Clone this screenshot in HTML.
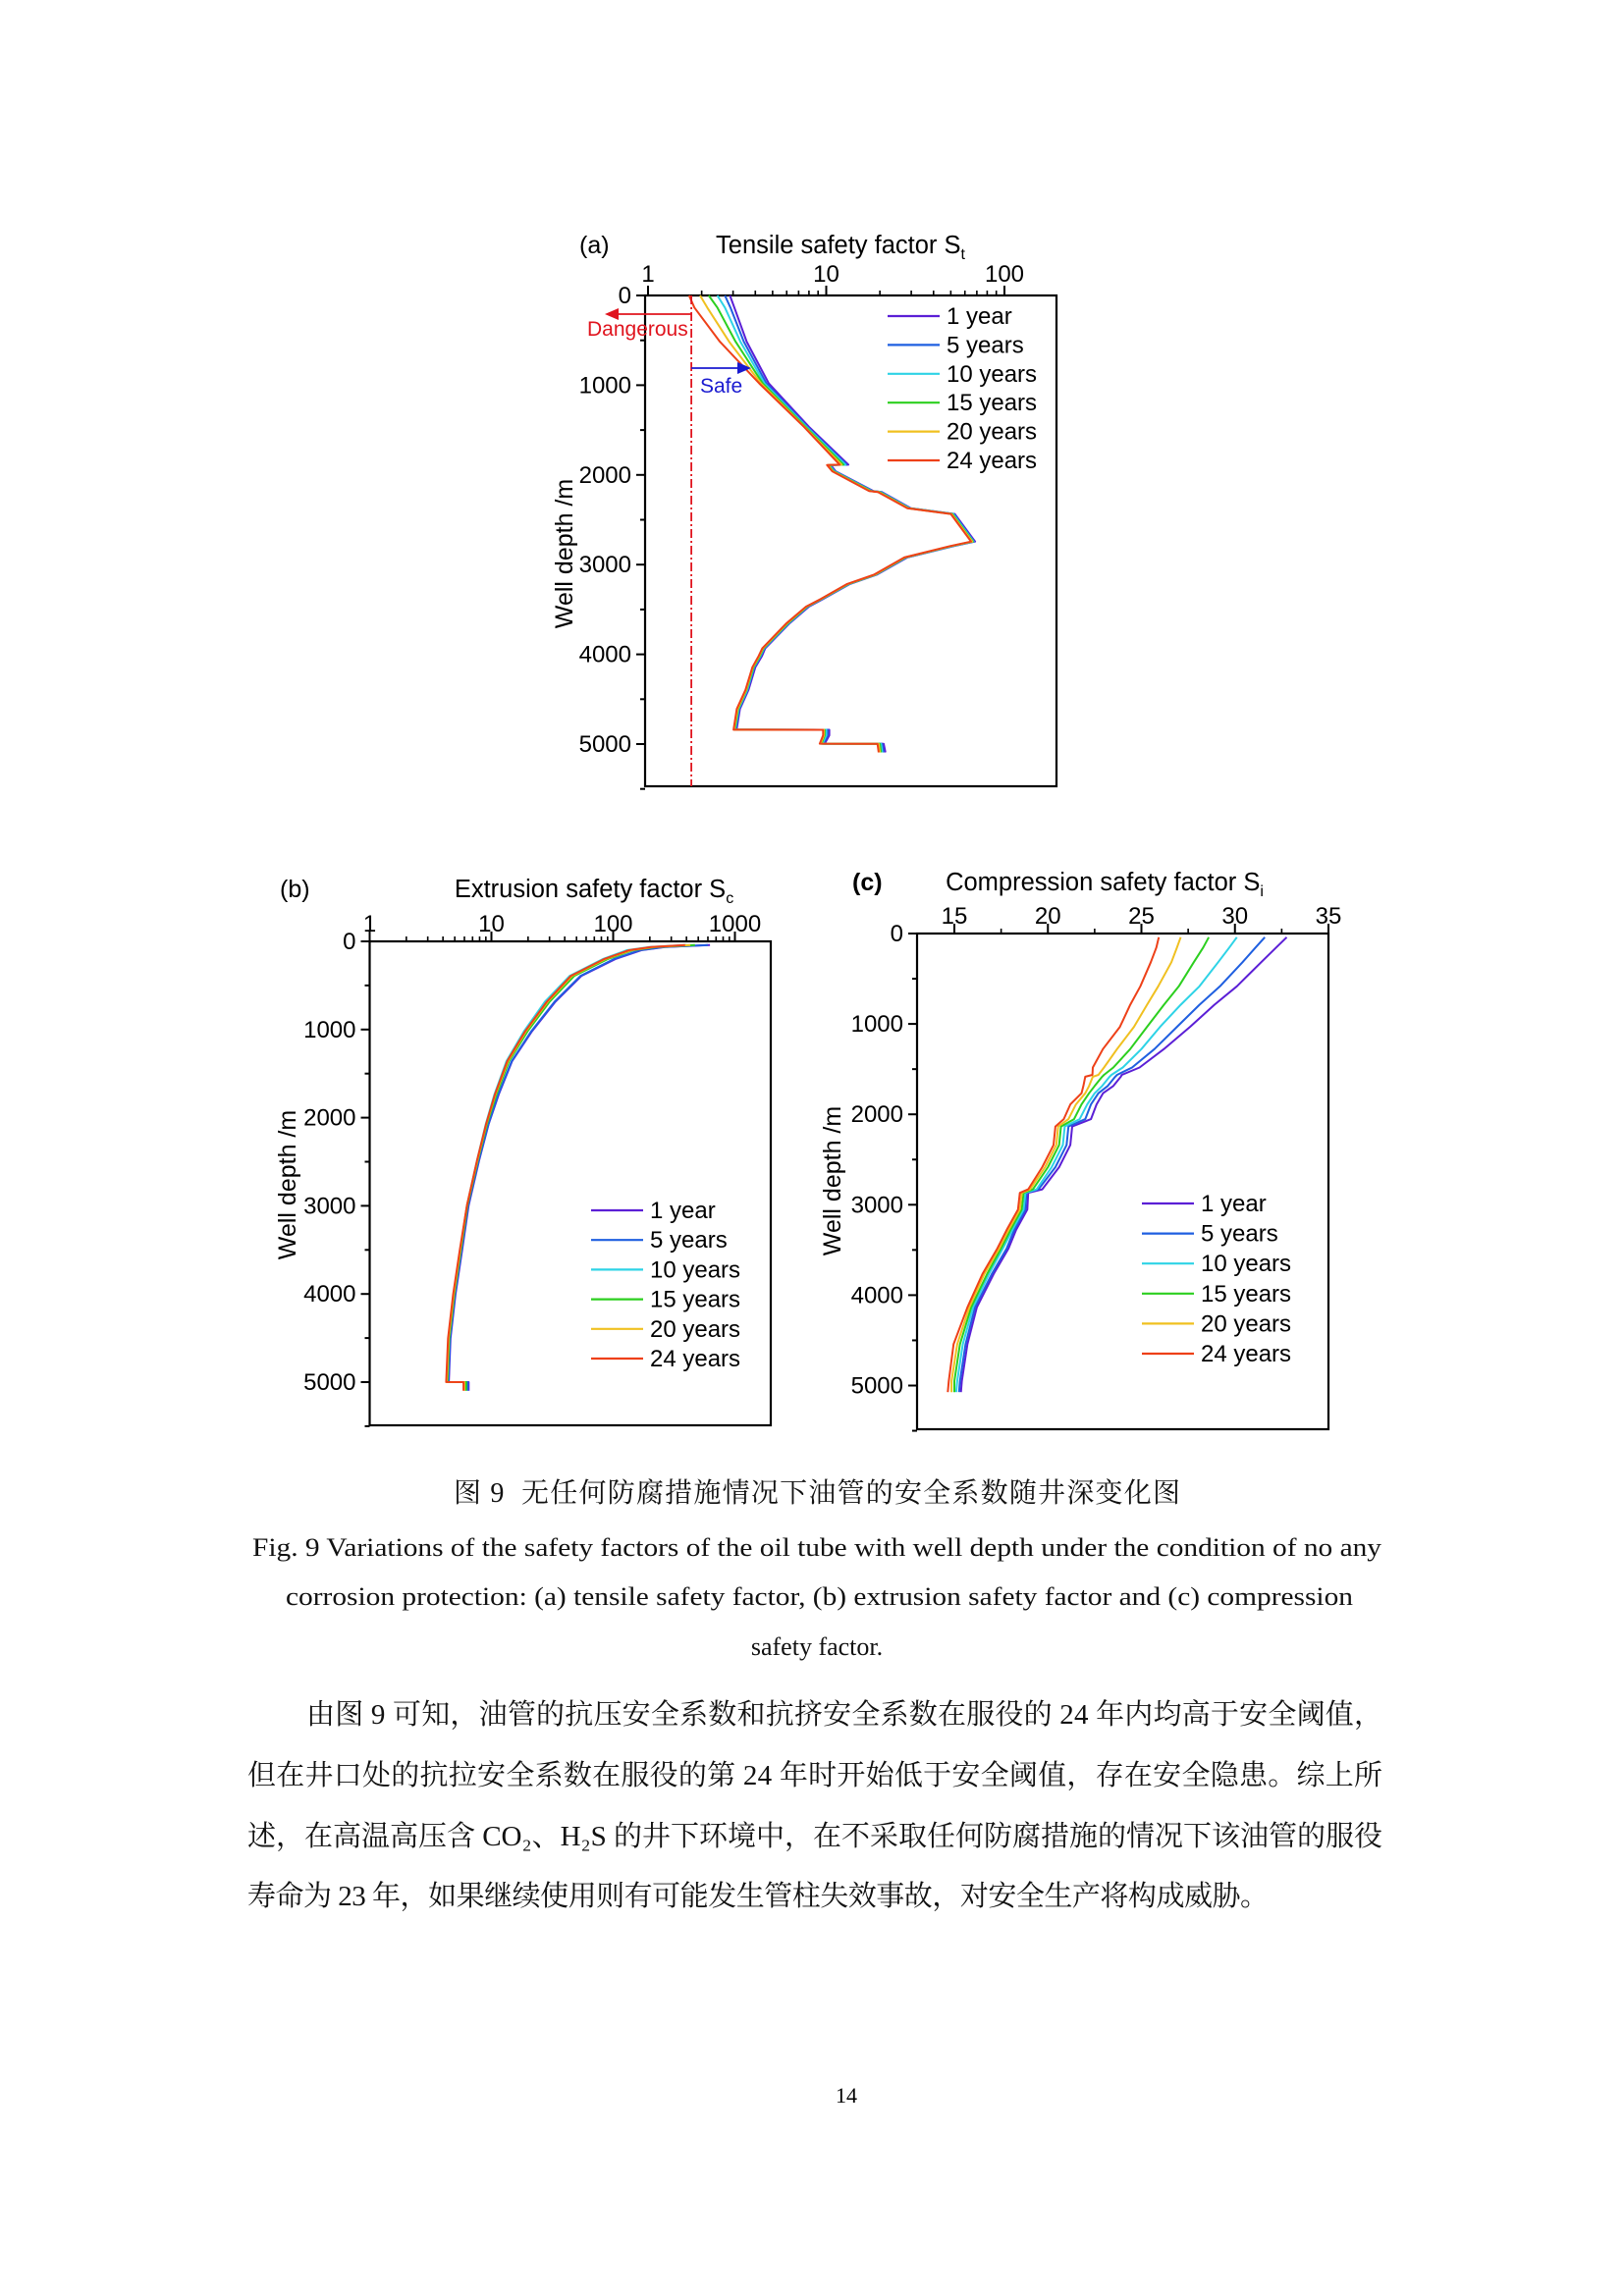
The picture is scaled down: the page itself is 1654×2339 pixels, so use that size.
<!DOCTYPE html>
<html><head><meta charset="utf-8"><style>
html,body{margin:0;padding:0;background:#fff;}
svg{display:block;}
</style></head><body>
<svg id="page" width="1654" height="2339" viewBox="0 0 1654 2339" xmlns="http://www.w3.org/2000/svg" font-family="'Liberation Sans', sans-serif">
<rect width="1654" height="2339" fill="#fff"/>
<g id="chartA"></g>
<g id="chartB"></g>
<g id="chartC"></g>
<g font-family="'Liberation Serif','Noto Serif CJK SC',serif" fill="#111">
<text x="462" y="1530" font-size="28" textLength="740" lengthAdjust="spacing">图 9&#160; 无任何防腐措施情况下油管的安全系数随井深变化图</text>
<text x="257" y="1585" font-size="26" textLength="1150" lengthAdjust="spacingAndGlyphs">Fig. 9 Variations of the safety factors of the oil tube with well depth under the condition of no any</text>
<text x="291" y="1635" font-size="26" textLength="1087" lengthAdjust="spacingAndGlyphs">corrosion protection: (a) tensile safety factor, (b) extrusion safety factor and (c) compression</text>
<text x="832" y="1686" font-size="26" text-anchor="middle">safety factor.</text>
</g>
<g font-family="'Liberation Serif','Noto Serif CJK SC',serif" fill="#111" font-size="29">
<text x="312" y="1756" textLength="1096" lengthAdjust="spacing">由图 9 可知，油管的抗压安全系数和抗挤安全系数在服役的 24 年内均高于安全阈值，</text>
<text x="252" y="1818" textLength="1156" lengthAdjust="spacing">但在井口处的抗拉安全系数在服役的第 24 年时开始低于安全阈值，存在安全隐患。综上所</text>
<text x="252" y="1880" textLength="1156" lengthAdjust="spacing">述，在高温高压含 CO₂、H₂S 的井下环境中，在不采取任何防腐措施的情况下该油管的服役</text>
<text x="252" y="1941" textLength="1040" lengthAdjust="spacing">寿命为 23 年，如果继续使用则有可能发生管柱失效事故，对安全生产将构成威胁。</text>
</g>
<text x="862" y="2142" font-size="22" text-anchor="middle" font-family="'Liberation Serif',serif">14</text>
</svg>
<script>
const seriesNames = ["1 year","5 years","10 years","15 years","20 years","24 years"];
const seriesColors = ["#5b1fd6","#1f5fe0","#2ed3e6","#2ccf1f","#f0c020","#ee4018"];

// Chart (a) tensile
const depthA = [0,135,515,980,1464,1886,1890,1960,2181,2190,2371,2435,2743,2793,2920,3110,3215,3384,3468,3658,3932,4017,4143,4397,4608,4840,4841,4903,4996,4997,5093];
const tensile1 = [2.88,3.05,3.58,4.76,8.0,13.3,10.6,11.3,18.4,20.5,29.8,52.6,68.4,52,28.5,19.3,13.6,9.6,8.0,6.2,4.55,4.36,4.0,3.66,3.28,3.14,10.4,10.4,9.8,21,21.5];
const tensile5 = [2.70,2.9,3.45,4.62,7.85,13.0,10.5,11.2,18.2,20.3,29.5,52,67.5,51.5,28.2,19.1,13.5,9.5,7.9,6.15,4.5,4.3,3.95,3.62,3.25,3.1,10.2,10.2,9.6,20.6,21.0];
const tensile10 = [2.45,2.7,3.3,4.5,7.75,12.8,10.4,11.1,18.0,20.1,29.3,51.5,67,51,28,19,13.4,9.45,7.85,6.1,4.47,4.27,3.92,3.6,3.22,3.08,10.0,10.0,9.5,20.3,20.6];
const tensile15 = [2.19,2.45,3.1,4.4,7.65,12.5,10.3,11.0,17.8,19.9,29.0,51,66.5,50.5,27.8,18.9,13.3,9.4,7.8,6.05,4.44,4.24,3.9,3.57,3.2,3.06,9.8,9.8,9.4,20.0,20.3];
const tensile20 = [1.96,2.15,2.85,4.3,7.55,12.2,10.2,10.9,17.6,19.7,28.8,50.5,66,50,27.6,18.8,13.2,9.35,7.75,6.0,4.41,4.21,3.87,3.55,3.18,3.04,9.7,9.7,9.3,19.7,20.0];
const tensile24 = [1.70,1.82,2.53,4.21,7.5,11.9,10.1,10.8,17.4,19.5,28.5,50,65,49.5,27.4,18.6,13.1,9.3,7.7,5.95,4.38,4.18,3.85,3.52,3.15,3.02,9.6,9.6,9.2,19.4,19.7];
const tensileThreshold = 1.75;
const tickLabelsA = ["1","10","100"];

// Chart (b) extrusion
const depthB = [42,63,100,202,391,685,1021,1357,1735,2071,2492,2996,3500,4004,4504,4999,5000,5097];
const extrusion1 = [624,267,170,104,55,33.5,21.5,14.8,11.5,9.5,7.9,6.5,5.75,5.07,4.61,4.47,6.5,6.5];
const extrusion5 = [600,260,165,101,54,33,21.2,14.7,11.4,9.45,7.85,6.45,5.7,5.03,4.58,4.44,6.4,6.4];
const extrusion10 = [400,200,130,82,44,27.5,18.5,13.3,10.6,9.0,7.6,6.3,5.55,4.9,4.45,4.3,6.1,6.1];
const extrusion15 = [470,225,145,90,48,30,19.8,14.0,11.0,9.2,7.7,6.35,5.6,4.95,4.5,4.35,6.2,6.2];
const extrusion20 = [430,215,140,86,46,29,19.2,13.7,10.8,9.1,7.65,6.3,5.55,4.9,4.45,4.3,6.0,6.0];
const extrusion24 = [390,205,135,84,45,28.5,18.9,13.5,10.7,9.05,7.6,6.3,5.5,4.85,4.4,4.25,5.9,5.9];
const tickLabelsB = ["1","10","100","1000"];

// Chart (c) compression
const depthC = [41,155,318,584,788,1033,1278,1482,1563,1584,1686,1767,1890,2053,2135,2339,2584,2829,2869,3053,3278,3482,3767,4135,4543,4951,5073];
const compression1 = [32.77,32.2,31.4,30.1,28.9,27.6,26.2,24.9,23.95,23.9,23.5,22.95,22.6,22.3,21.3,21.2,20.6,19.7,18.95,18.9,18.3,17.9,17.1,16.2,15.7,15.4,15.35];
const compression5 = [31.6,31.1,30.4,29.2,28.1,26.9,25.7,24.5,23.7,23.6,23.2,22.7,22.3,22.0,21.1,21.0,20.4,19.5,18.85,18.8,18.2,17.8,17.0,16.1,15.6,15.3,15.25];
const compression10 = [30.1,29.7,29.1,28.1,27.1,26.0,25.0,24.0,23.4,23.3,22.9,22.5,22.1,21.7,20.9,20.8,20.2,19.4,18.8,18.7,18.1,17.6,16.85,16.0,15.45,15.15,15.1];
const compression15 = [28.6,28.3,27.8,27.0,26.2,25.3,24.4,23.5,23.0,22.9,22.5,22.2,21.8,21.4,20.7,20.6,20.0,19.2,18.7,18.6,18.0,17.5,16.75,15.9,15.3,15.0,15.0];
const compression20 = [27.1,26.9,26.6,25.9,25.3,24.6,23.7,23.0,22.7,22.4,22.2,22.0,21.5,21.1,20.55,20.45,19.85,19.05,18.6,18.5,17.9,17.4,16.6,15.8,15.15,14.85,14.85];
const compression24 = [25.93,25.8,25.5,24.94,24.4,23.85,22.94,22.4,22.38,22.0,21.9,21.8,21.2,20.85,20.4,20.3,19.7,18.95,18.5,18.4,17.8,17.3,16.5,15.7,14.96,14.7,14.65];
const tickLabelsC = ["15","20","25","30","35"];
const depthTickLabels = ["0","1000","2000","3000","4000","5000"];

const NS = "http://www.w3.org/2000/svg";
function mk(parent, tag, attrs, text) {
  const e = document.createElementNS(NS, tag);
  for (const k in attrs) e.setAttribute(k, attrs[k]);
  if (text !== undefined) e.textContent = text;
  parent.appendChild(e);
  return e;
}

function drawChart(g, cfg) {
  const L = cfg.left, R = cfg.right, T = cfg.top, B = cfg.bottom;
  const y = d => cfg.y0 + d * cfg.yPer;
  const x = cfg.xScale;
  const frame = mk(g, "rect", {x: L, y: T, width: R - L, height: B - T, fill: "none", stroke: "#000", "stroke-width": 2.2});
  
  
  const yAxis = mk(g, "g", {});
  
  
  for (let i = 0; i < depthTickLabels.length; i++) {
    const d = Number(depthTickLabels[i]);
    mk(yAxis, "line", {x1: L - 9, x2: L, y1: y(d), y2: y(d), stroke: "#000", "stroke-width": 2});
    mk(yAxis, "line", {x1: L - 5, x2: L, y1: y(d + 500), y2: y(d + 500), stroke: "#000", "stroke-width": 2});
    const t = mk(yAxis, "text", {x: L - 14, y: y(d) + 8, "font-size": 24, "text-anchor": "end"}, depthTickLabels[i]);
    
    
  }
  const yl = mk(g, "text", {x: 0, y: 0, "font-size": 25, "text-anchor": "middle", transform: `translate(${cfg.ylx},${cfg.yly}) rotate(-90)`}, "Well depth /m");
  
  
  const xAxis = mk(g, "g", {});
  
  
  cfg.majors.forEach((v, i) => {
    mk(xAxis, "line", {x1: x(v), x2: x(v), y1: T - 10, y2: T, stroke: "#000", "stroke-width": 2});
    const t = mk(xAxis, "text", {x: x(v), y: cfg.tickY, "font-size": 24, "text-anchor": "middle"}, cfg.tickLabels[i]);
    
    
  });
  cfg.minors.forEach(v => {
    if (x(v) <= R) mk(xAxis, "line", {x1: x(v), x2: x(v), y1: T - 5, y2: T, stroke: "#000", "stroke-width": 1.6});
  });
  const tt = mk(g, "text", {x: cfg.titleX, y: cfg.titleY, "font-size": 25.5, "text-anchor": "middle"});
  
  
  mk(tt, "tspan", {}, cfg.title);
  mk(tt, "tspan", {"font-size": 16, dy: 6}, cfg.sub);
  const pl = mk(g, "text", {x: cfg.panelX, y: cfg.titleY, "font-size": 25, "font-weight": cfg.panelBold ? "bold" : "normal"}, cfg.panel);
  
  
  cfg.series.forEach((vals, si) => {
    const pts = vals.map((v, i) => `${x(v).toFixed(1)},${y(cfg.depth[i]).toFixed(1)}`).join(" ");
    const p = mk(g, "polyline", {points: pts, fill: "none", stroke: seriesColors[si], "stroke-width": 2, "stroke-linejoin": "round"});
    
    
  });
  const lg = mk(g, "g", {});
  
  
  seriesNames.forEach((n, i) => {
    const ly = cfg.legY + i * cfg.legStep;
    const e = mk(lg, "g", {});
    
    
    mk(e, "line", {x1: cfg.legX, x2: cfg.legX + 53, y1: ly, y2: ly, stroke: seriesColors[i], "stroke-width": 2.2});
    mk(e, "text", {x: cfg.legX + 60, y: ly + 8, "font-size": 24}, n);
  });
}

const logMinors = [];
[1, 10, 100, 1000].forEach(b => { for (let k = 2; k <= 9; k++) logMinors.push(b * k); });

// (a)
const gA = document.getElementById("chartA");
const xA = v => 660 + Math.log10(v) * 181.5;
drawChart(gA, {
  left: 657, right: 1076, top: 301, bottom: 801, y0: 301, yPer: 0.0914,
  xScale: xA, majors: [1, 10, 100], minors: logMinors, tickLabels: tickLabelsA, tickY: 287,
  title: "Tensile safety factor S", sub: "t", titleX: 856, titleY: 258, panel: "(a)", panelX: 590,
  ylx: 583, yly: 564,
  depth: depthA, series: [tensile1, tensile5, tensile10, tensile15, tensile20, tensile24],
  legX: 904, legY: 322, legStep: 29.4
});
const thr = mk(gA, "line", {x1: xA(tensileThreshold), x2: xA(tensileThreshold), y1: 301, y2: 801, stroke: "#e0141e", "stroke-width": 1.8, "stroke-dasharray": "9,3,2,3"});


mk(gA, "line", {x1: xA(tensileThreshold), x2: 628, y1: 320, y2: 320, stroke: "#e0141e", "stroke-width": 1.8});
mk(gA, "polygon", {points: "616,320 630,314 630,326", fill: "#e0141e"});
const dg = mk(gA, "text", {x: 598, y: 342, "font-size": 21, fill: "#e0141e"}, "Dangerous");


mk(gA, "line", {x1: xA(tensileThreshold), x2: 752, y1: 375, y2: 375, stroke: "#1a1ad0", "stroke-width": 1.8});
mk(gA, "polygon", {points: "765,375 751,369 751,381", fill: "#1a1ad0"});
const sf = mk(gA, "text", {x: 713, y: 400, "font-size": 21, fill: "#1a1ad0"}, "Safe");



// (b)
const gB = document.getElementById("chartB");
drawChart(gB, {
  left: 376.5, right: 785, top: 959, bottom: 1452, y0: 959, yPer: 0.0898,
  xScale: v => 376.5 + Math.log10(v) * 124, majors: [1, 10, 100, 1000], minors: logMinors, tickLabels: tickLabelsB, tickY: 949,
  title: "Extrusion safety factor S", sub: "c", titleX: 605, titleY: 914, panel: "(b)", panelX: 285,
  ylx: 301, yly: 1207,
  depth: depthB, series: [extrusion1, extrusion5, extrusion10, extrusion15, extrusion20, extrusion24],
  legX: 602, legY: 1233, legStep: 30.2
});

// (c)
const gC = document.getElementById("chartC");
drawChart(gC, {
  left: 934, right: 1353, top: 951, bottom: 1456, y0: 951, yPer: 0.0921,
  xScale: v => 972 + (v - 15) * 19.05, majors: [15, 20, 25, 30, 35], minors: [17.5, 22.5, 27.5, 32.5], tickLabels: tickLabelsC, tickY: 941,
  title: "Compression safety factor S", sub: "i", titleX: 1125, titleY: 907, panel: "(c)", panelX: 868, panelBold: true,
  ylx: 856, yly: 1203,
  depth: depthC, series: [compression1, compression5, compression10, compression15, compression20, compression24],
  legX: 1163, legY: 1226, legStep: 30.6
});
</script>
</body></html>
